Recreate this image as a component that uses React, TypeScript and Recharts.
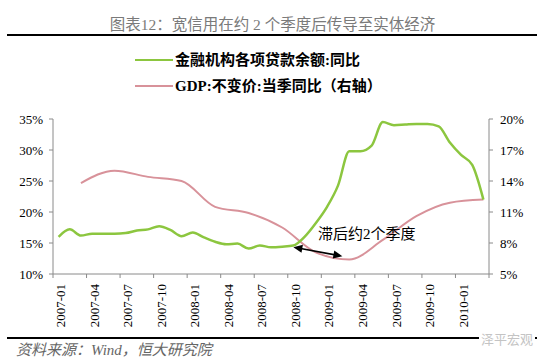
import React from 'react';
import { LineChart, Line, XAxis, YAxis, ReferenceLine } from 'recharts';

// monthly categories on the x axis
const months = [
    '2007-01', '2007-02', '2007-03', '2007-04', '2007-05', '2007-06', '2007-07', '2007-08', '2007-09', '2007-10', '2007-11', '2007-12',
    '2008-01', '2008-02', '2008-03', '2008-04', '2008-05', '2008-06', '2008-07', '2008-08', '2008-09', '2008-10', '2008-11', '2008-12',
    '2009-01', '2009-02', '2009-03', '2009-04', '2009-05', '2009-06', '2009-07', '2009-08', '2009-09', '2009-10', '2009-11', '2009-12',
    '2010-01', '2010-02', '2010-03',
];

// 金融机构各项贷款余额:同比 (%), left axis
const loanYoY = [
    16.0, 17.2, 16.2, 16.5, 16.5, 16.5, 16.6, 17.0, 17.2, 17.7, 17.1, 16.1,
    16.7, 15.9, 15.2, 14.8, 14.9, 14.1, 14.6, 14.3, 14.4, 14.6, 16.0, 18.2,
    20.8, 24.3, 29.8, 29.8, 30.7, 34.5, 34.0, 34.1, 34.2, 34.2, 33.8, 31.2,
    29.2, 27.6, 22.0,
];

// GDP:不变价:当季同比 (%), right axis, quarter-end months
const gdpMonths = [
    '2007-03', '2007-06', '2007-09', '2007-12', '2008-03', '2008-06', '2008-09',
    '2008-12', '2009-03', '2009-06', '2009-09', '2009-12', '2010-03',
];
const gdpYoY = [13.8, 15.0, 14.4, 14.0, 11.5, 10.9, 9.5, 7.1, 6.4, 8.3, 10.6, 11.9, 12.2];

const leftTicks = [10, 15, 20, 25, 30, 35];
const rightTicks = [5, 8, 11, 14, 17, 20];

const GREEN = '#8cc63f';
const PINK = '#d8929a';
const AXIS = '#8a8a8a';
const SERIF = '"Liberation Serif", "Noto Sans CJK SC", serif';

const PLOT_LEFT = 53;
const PLOT_RIGHT = 489;
const BAND = (PLOT_RIGHT - PLOT_LEFT) / months.length;

const data = months.map((m, i) => {
    const q = gdpMonths.indexOf(m);
    return { month: m, loan: loanYoY[i], gdp: q >= 0 ? gdpYoY[q] : null };
});

const MonthTick: React.FC<any> = ({ x, y, payload }) => {
    const i = months.indexOf(payload.value);
    if (i % 3 !== 0) return <g />;
    const axisY = y - 10;
    const edge = x - BAND / 2;
    return (
        <g>
            <line x1={edge} y1={axisY} x2={edge} y2={axisY + 4} stroke={AXIS} />
            {i + 3 >= months.length && (
                <line x1={edge + 3 * BAND} y1={axisY} x2={edge + 3 * BAND} y2={axisY + 4} stroke={AXIS} />
            )}
            <text
                transform={`translate(${x + 2},${y}) rotate(-90)`}
                textAnchor="end"
                dy="0.35em"
                fontSize={13}
                fontFamily={SERIF}
                fill="#000"
            >
                {payload.value}
            </text>
        </g>
    );
};

// double headed arrow for the "lag" note
const LagArrow: React.FC<any> = ({ x1, y1, x2, y2 }) => {
    const len = Math.hypot(x2 - x1, y2 - y1);
    const ux = (x2 - x1) / len;
    const uy = (y2 - y1) / len;
    const ex = x2 - ux * 7;
    const ey = y2 - uy * 7;
    const head = (tx: number, ty: number, dx: number, dy: number) => {
        const bx = tx - dx * 9;
        const by = ty - dy * 9;
        return `${tx},${ty} ${bx - dy * 4},${by + dx * 4} ${bx + dy * 4},${by - dx * 4}`;
    };
    return (
        <g>
            <line x1={x1 + ux * 6} y1={y1 + uy * 6} x2={ex - ux * 6} y2={ey - uy * 6} stroke="#000" strokeWidth={1.6} />
            <polygon points={head(x1, y1, -ux, -uy)} fill="#000" />
            <polygon points={head(ex, ey, ux, uy)} fill="#000" />
        </g>
    );
};

const abs = (s: React.CSSProperties): React.CSSProperties => ({ position: 'absolute', margin: 0, ...s });

export default function App() {
    return (
        <div style={abs({ left: 0, top: 0, width: 550, height: 363, background: '#fff', overflow: 'hidden' })}>
            <LineChart width={550} height={363} data={data} margin={{ top: 119, right: 0, bottom: 19, left: 0 }}>
                <XAxis
                    dataKey="month"
                    interval={0}
                    height={70}
                    padding={{ left: BAND / 2, right: BAND / 2 }}
                    tickLine={false}
                    tickSize={4}
                    tickMargin={6}
                    stroke={AXIS}
                    tick={<MonthTick />}
                />
                <YAxis
                    yAxisId="left"
                    width={PLOT_LEFT}
                    domain={[10, 35]}
                    ticks={leftTicks}
                    tickFormatter={(v) => `${v}%`}
                    tickSize={4}
                    tickMargin={6}
                    stroke={AXIS}
                    tick={{ fontSize: 13, fontFamily: SERIF, fill: '#000' }}
                />
                <YAxis
                    yAxisId="right"
                    orientation="right"
                    width={550 - PLOT_RIGHT}
                    domain={[5, 20]}
                    ticks={rightTicks}
                    tickFormatter={(v) => `${v}%`}
                    tickSize={4}
                    tickMargin={7}
                    stroke={AXIS}
                    tick={{ fontSize: 13, fontFamily: SERIF, fill: '#000', textAnchor: 'start' }}
                />
                <Line
                    yAxisId="right"
                    type="monotone"
                    dataKey="gdp"
                    stroke={PINK}
                    strokeWidth={2}
                    dot={false}
                    connectNulls
                    isAnimationActive={false}
                />
                <Line
                    yAxisId="left"
                    type="monotone"
                    dataKey="loan"
                    stroke={GREEN}
                    strokeWidth={2.5}
                    dot={false}
                    isAnimationActive={false}
                />
                <ReferenceLine
                    yAxisId="right"
                    segment={[{ x: '2008-10', y: 7.6 }, { x: '2009-03', y: 6.6 }]}
                    shape={<LagArrow />}
                />
            </LineChart>

            <div style={abs({ left: 0, top: 15, width: 545, textAlign: 'center', fontSize: 15.5, lineHeight: '20px', color: '#7a7a7a', fontFamily: SERIF })}>
                图表12：宽信用在约 2 个季度后传导至实体经济
            </div>
            <div style={abs({ left: 7, top: 34, width: 530, height: 2, background: '#000' })} />

            <div style={abs({ left: 135, top: 59, width: 38, height: 2, background: GREEN })} />
            <div style={abs({ left: 175, top: 50, fontSize: 15, lineHeight: '20px', fontWeight: 'bold', fontFamily: SERIF, color: '#000', whiteSpace: 'nowrap' })}>
                金融机构各项贷款余额:同比
            </div>
            <div style={abs({ left: 135, top: 85, width: 38, height: 2, background: PINK })} />
            <div style={abs({ left: 175, top: 76, fontSize: 15, lineHeight: '20px', fontWeight: 'bold', fontFamily: SERIF, color: '#000', whiteSpace: 'nowrap' })}>
                GDP:不变价:当季同比（右轴）
            </div>

            <div style={abs({ left: 318, top: 224, fontSize: 15, lineHeight: '20px', fontFamily: SERIF, color: '#000', whiteSpace: 'nowrap' })}>
                滞后约2个季度
            </div>

            <div style={abs({ left: 7, top: 337, width: 530, height: 2, background: '#000' })} />
            <div style={abs({ left: 16, top: 341, fontSize: 15, lineHeight: '18px', fontStyle: 'italic', fontFamily: SERIF, color: '#666', whiteSpace: 'nowrap' })}>
                资料来源：Wind，恒大研究院
            </div>
            <div style={abs({ left: 479, top: 331, fontSize: 13, lineHeight: '18px', fontFamily: SERIF, color: '#c4c4c4', background: '#fff', padding: '0 2px', whiteSpace: 'nowrap' })}>
                泽平宏观
            </div>
        </div>
    );
}
